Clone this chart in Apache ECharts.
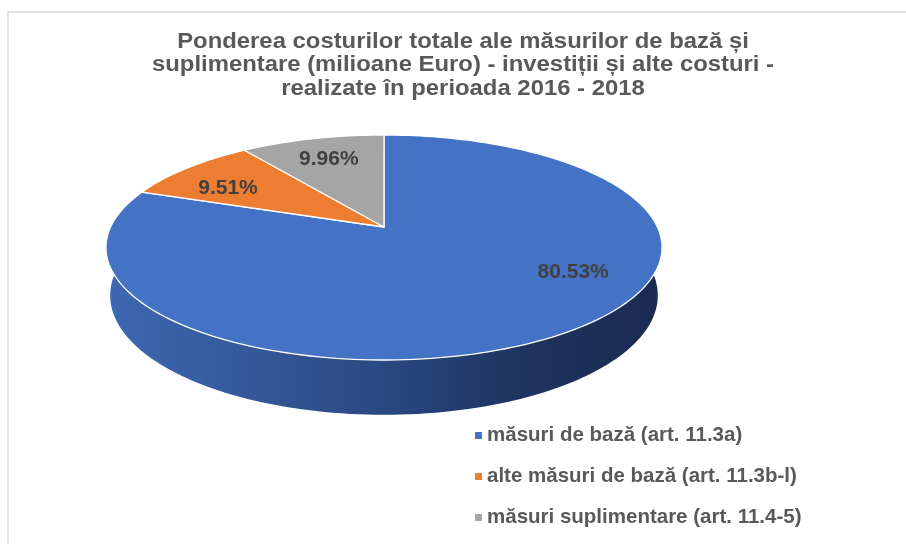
<!DOCTYPE html>
<html>
<head>
<meta charset="utf-8">
<script src="https://cdn.jsdelivr.net/npm/echarts@6/dist/echarts.min.js"></script>
<style>
  html, body { margin: 0; padding: 0; background: #fff; }
  #chart { width: 906px; height: 544px; }
</style>
</head>
<body>
<div id="chart"></div>
<script>
// Shares of total costs (%), 2016 - 2018
const categories = [
  'măsuri de bază (art. 11.3a)',
  'alte măsuri de bază (art. 11.3b-l)',
  'măsuri suplimentare (art. 11.4-5)'
];
const shares = [80.53, 9.51, 9.96];
const sliceColors = ['#4472C4', '#ED7D31', '#A5A5A5'];
const titleLines = [
  'Ponderea costurilor totale ale măsurilor de bază și',
  'suplimentare (milioane Euro) - investiții și alte costuri -',
  'realizate în perioada 2016 - 2018'
];

// Camera for the tilted pie: disk of unit radius, viewed from above with perspective
const view = {
  cx: 384, cy: 227,      // screen position of the pie centre
  scale: 1376,           // focal length in px
  dist: 5.033,           // camera distance (in radii)
  sinA: 0.3978, cosA: 0.9175, // elevation angle
  depth: 0.19            // thickness of the pie (in radii)
};

// Label anchors inside each slice: angular turn (deg) and radial fraction
const labelAnchors = [
  { turn: -24, radius: 0.75 },
  { turn: -5, radius: 0.72 },
  { turn: 0, radius: 0.74 }
];

// theta: degrees clockwise from 12 o'clock; r: radius fraction; h: height (0 = top face)
function project(theta, r, h) {
  const t = theta * Math.PI / 180;
  const x = r * Math.sin(t);
  const z = -r * Math.cos(t);
  const d = view.dist - (h * view.sinA + z * view.cosA);
  return [
    view.cx + view.scale * x / d,
    view.cy + view.scale * (z * view.sinA - h * view.cosA) / d
  ];
}

const total = shares.reduce((a, b) => a + b, 0);
const startShares = shares.map((_, i) => shares.slice(0, i).reduce((a, b) => a + b, 0));

function arcPoints(a, b, r, h) {
  const pts = [];
  const n = Math.max(2, Math.ceil((b - a) / 1.5));
  for (let k = 0; k <= n; k++) pts.push(project(a + (b - a) * k / n, r, h));
  return pts;
}

function makeRenderer(i) {
  return function (params, api) {
    const value = api.value(0);
    const start = startShares[i] / total * 360;
    const end = (startShares[i] + value) / total * 360;
    const children = [];

    // outer wall, front half only
    const a = Math.max(start, 90), b = Math.min(end, 270);
    if (b > a) {
      const topArc = arcPoints(a, b, 1, 0);
      const botArc = arcPoints(a, b, 1, -view.depth).reverse();
      children.push({
        type: 'polygon',
        shape: { points: topArc.concat(botArc) },
        style: {
          fill: new echarts.graphic.LinearGradient(0, 0, 1, 0, i === 0 ? [
            { offset: 0, color: '#3e68b3' },
            { offset: 0.45, color: '#2d4c87' },
            { offset: 0.75, color: '#1e335f' },
            { offset: 1, color: '#1a2b50' }
          ] : [
            { offset: 0, color: sliceColors[i] },
            { offset: 1, color: echarts.color.lift(sliceColors[i], -0.5) }
          ])
        }
      });
    }

    // top face
    const top = [project(0, 0, 0)].concat(arcPoints(start, end, 1, 0));
    children.push({
      type: 'polygon',
      shape: { points: top },
      style: { fill: sliceColors[i], stroke: '#ffffff', lineWidth: 1.3, lineJoin: 'round' }
    });

    // value label
    const anc = labelAnchors[i];
    const p = project((start + end) / 2 + anc.turn, anc.radius, 0);
    children.push({
      type: 'text',
      style: {
        x: p[0], y: p[1],
        text: value.toFixed(2) + '%',
        align: 'center', verticalAlign: 'middle',
        font: 'bold 21px "Liberation Sans", Arial, sans-serif',
        fill: '#404040'
      }
    });

    return { type: 'group', children };
  };
}

const chart = echarts.init(document.getElementById('chart'), null, { renderer: 'canvas' });

chart.setOption({
  animation: false,
  backgroundColor: '#ffffff',
  legend: {
    orient: 'vertical',
    left: 475,
    top: 425,
    padding: 0,
    itemWidth: 7,
    itemHeight: 7,
    itemGap: 20,
    icon: 'rect',
    data: categories,
    textStyle: {
      fontFamily: '"Liberation Sans", Arial, sans-serif',
      fontWeight: 'bold',
      fontSize: 20.5,
      color: '#595959'
    }
  },
  graphic: [{
    type: 'rect',
    shape: { x: 8, y: 12, width: 1200, height: 1200 },
    style: { fill: 'none', stroke: '#d9d9d9', lineWidth: 1.5 },
    silent: true,
    z: -10
  }, {
    // chart title, slightly widened lettering
    type: 'text',
    x: 463,
    y: 30,
    scaleX: 1.085,
    style: {
      text: titleLines.join('\n'),
      align: 'center',
      verticalAlign: 'top',
      font: 'bold 22px "Liberation Sans", Arial, sans-serif',
      lineHeight: 23.5,
      fill: '#595959'
    }
  }],
  series: categories.map((name, i) => ({
    type: 'custom',
    name: name,
    coordinateSystem: 'none',
    itemStyle: { color: sliceColors[i] },
    renderItem: makeRenderer(i),
    data: [[shares[i]]]
  }))
});
</script>
</body>
</html>
